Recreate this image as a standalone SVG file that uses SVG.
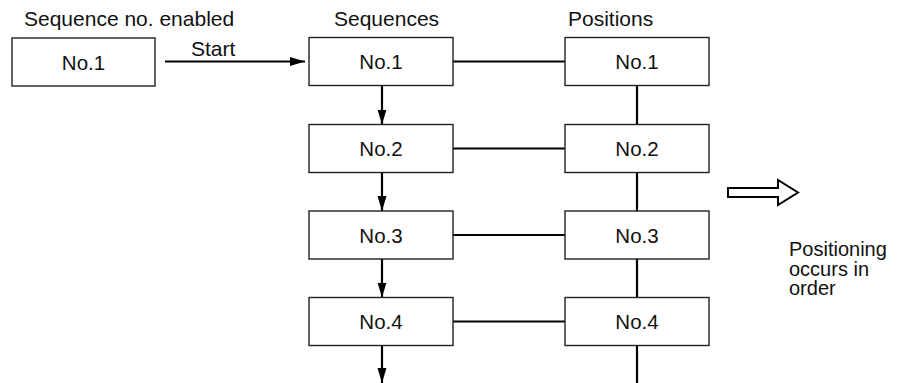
<svg xmlns="http://www.w3.org/2000/svg" width="900" height="383" viewBox="0 0 900 383">
<defs>
<style>
.box{fill:#fff;stroke:#222;stroke-width:1.4}
.t{font-family:"Liberation Sans",Arial,sans-serif;font-size:21px;fill:#111}
.n{font-family:"Liberation Sans",Arial,sans-serif;font-size:20px;fill:#111}
.lbl{font-family:"Liberation Sans",Arial,sans-serif;font-size:20.5px;fill:#111;text-anchor:middle}
.c{stroke:#000;stroke-width:2.2;fill:none}
</style>
<marker id="ah" viewBox="0 0 15 10" refX="15" refY="5" markerWidth="15" markerHeight="10" markerUnits="userSpaceOnUse" orient="auto">
<path d="M0,0.5 L15,5 L0,9.5 Z" fill="#000"/>
</marker>
</defs>
<rect width="900" height="383" fill="#fff"/>
<g id="titles">
<text class="t" x="24" y="26">Sequence no. enabled</text>
<text class="t" x="334" y="26">Sequences</text>
<text class="t" x="568" y="26">Positions</text>
</g>
<g id="connectors">
<line class="c" x1="165" y1="61.5" x2="305" y2="61.5" marker-end="url(#ah)"/>
<line class="c" x1="382" y1="85.5" x2="382" y2="124.5" marker-end="url(#ah)"/>
<line class="c" x1="382" y1="172.5" x2="382" y2="211" marker-end="url(#ah)"/>
<line class="c" x1="382" y1="259" x2="382" y2="297.5" marker-end="url(#ah)"/>
<line class="c" x1="382" y1="345.5" x2="382" y2="383" marker-end="url(#ah)"/>
<line class="c" x1="453" y1="61.5" x2="565" y2="61.5"/>
<line class="c" x1="453" y1="148.5" x2="565" y2="148.5"/>
<line class="c" x1="453" y1="235" x2="565" y2="235"/>
<line class="c" x1="453" y1="321.5" x2="565" y2="321.5"/>
<line class="c" x1="637" y1="85.5" x2="637" y2="124.5"/>
<line class="c" x1="637" y1="172.5" x2="637" y2="211"/>
<line class="c" x1="637" y1="259" x2="637" y2="297.5"/>
<line class="c" x1="637" y1="345.5" x2="637" y2="383"/>
<text class="t" x="191" y="55.5">Start</text>
</g>
<g id="enabled1"><rect class="box" x="12" y="38" width="143" height="48"/><text class="lbl" x="83.5" y="69.5">No.1</text></g>
<g id="seq1"><rect class="box" x="309" y="37.5" width="144" height="48"/><text class="lbl" x="381" y="69">No.1</text></g>
<g id="seq2"><rect class="box" x="309" y="124.5" width="144" height="48"/><text class="lbl" x="381" y="156">No.2</text></g>
<g id="seq3"><rect class="box" x="309" y="211" width="144" height="48"/><text class="lbl" x="381" y="242.5">No.3</text></g>
<g id="seq4"><rect class="box" x="309" y="297.5" width="144" height="48"/><text class="lbl" x="381" y="329">No.4</text></g>
<g id="pos1"><rect class="box" x="565" y="37.5" width="144" height="48"/><text class="lbl" x="637" y="69">No.1</text></g>
<g id="pos2"><rect class="box" x="565" y="124.5" width="144" height="48"/><text class="lbl" x="637" y="156">No.2</text></g>
<g id="pos3"><rect class="box" x="565" y="211" width="144" height="48"/><text class="lbl" x="637" y="242.5">No.3</text></g>
<g id="pos4"><rect class="box" x="565" y="297.5" width="144" height="48"/><text class="lbl" x="637" y="329">No.4</text></g>
<g id="note">
<polygon points="728,188 778,188 778,180 798,192.5 778,205 778,197 728,197" fill="#fff" stroke="#000" stroke-width="2" stroke-linejoin="miter"/>
<text class="n" x="789" y="256">Positioning</text>
<text class="n" x="789" y="275.5">occurs in</text>
<text class="n" x="789" y="295">order</text>
</g>
</svg>
